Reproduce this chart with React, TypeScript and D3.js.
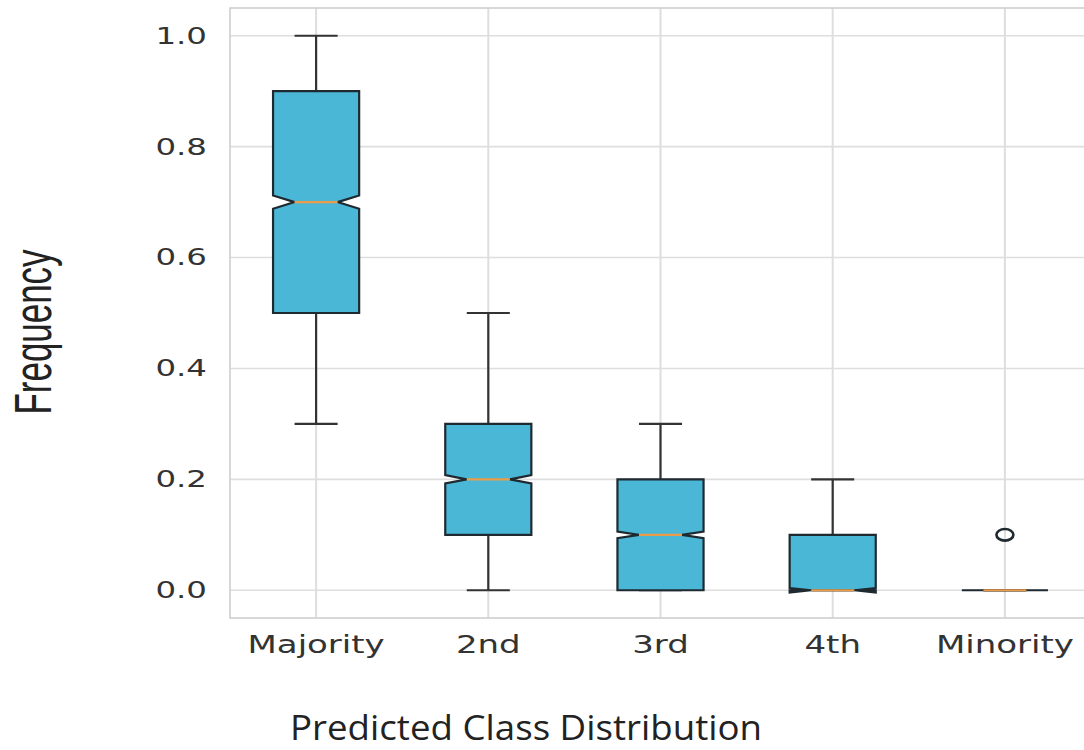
import React from "react";
import * as d3 from "d3";

const categories = ["Majority", "2nd", "3rd", "4th", "Minority"];
const whiskerLow = [0.3, 0.0, 0.0, 0.0, 0.0];
const q1 = [0.5, 0.1, 0.0, 0.0, 0.0];
const median = [0.7, 0.2, 0.1, 0.0, 0.0];
const q3 = [0.9, 0.3, 0.2, 0.1, 0.0];
const whiskerHigh = [1.0, 0.5, 0.3, 0.2, 0.0];
const notchHalf = [0.012, 0.0075, 0.006, 0.004, 0.0];
const outliers: number[][] = [[], [], [], [], [0.1]];
const yTicks = [0.0, 0.2, 0.4, 0.6, 0.8, 1.0];

const W = 1084;
const H = 750;
const plotLeft = 230;
const plotRight = 1091;
const plotTop = 8;
const plotBottom = 618;

const BOX_FILL = "#4ab7d7";
const EDGE = "#1e2a30";
const WHISK = "#333333";
const MED = "#eb9c48";
const GRID = "#dedede";
const FRAME = "#cfcfcf";

export default function App() {
  const x = d3.scaleLinear().domain([0.5, 5.5]).range([plotLeft, plotRight]);
  const y = d3.scaleLinear().domain([-0.05, 1.05]).range([plotBottom, plotTop]);
  const fmt = d3.format(".1f");
  const line = d3
    .line<[number, number]>()
    .x((d) => x(d[0]))
    .y((d) => y(d[1]));

  const boxHalf = 0.25;
  const waistHalf = 0.125;
  const capHalf = 0.125;

  return (
    <svg
      width={W}
      height={H}
      style={{ position: "absolute", left: 0, top: 0, background: "#fff" }}
    >
      <defs>
        <clipPath id="plotclip">
          <rect x={plotLeft} y={plotTop} width={plotRight - plotLeft} height={plotBottom - plotTop} />
        </clipPath>
      </defs>
      {/* grid */}
      <g>
        {yTicks.map((t) => (
          <line key={"gy" + t} x1={plotLeft} x2={plotRight} y1={y(t)} y2={y(t)} stroke={GRID} strokeWidth={1.6} />
        ))}
        {categories.map((c, i) => (
          <line key={"gx" + c} x1={x(i + 1)} x2={x(i + 1)} y1={plotTop} y2={plotBottom} stroke={GRID} strokeWidth={2} />
        ))}
      </g>
      {/* frame */}
      <rect
        x={plotLeft}
        y={plotTop}
        width={plotRight - plotLeft}
        height={plotBottom - plotTop}
        fill="none"
        stroke={FRAME}
        strokeWidth={1.6}
      />
      {/* boxes */}
      <g clipPath="url(#plotclip)">
        {categories.map((c, i) => {
          const p = i + 1;
          const l = p - boxHalf;
          const r = p + boxHalf;
          const nl = p - waistHalf;
          const nr = p + waistHalf;
          const nmin = median[i] - notchHalf[i];
          const nmax = median[i] + notchHalf[i];
          const pts: [number, number][] = [
            [l, q1[i]],
            [r, q1[i]],
            [r, nmin],
            [nr, median[i]],
            [r, nmax],
            [r, q3[i]],
            [l, q3[i]],
            [l, nmax],
            [nl, median[i]],
            [l, nmin],
            [l, q1[i]],
          ];
          return (
            <g key={c}>
              {/* whiskers */}
              <line x1={x(p)} x2={x(p)} y1={y(q3[i])} y2={y(whiskerHigh[i])} stroke={WHISK} strokeWidth={2.2} />
              <line x1={x(p)} x2={x(p)} y1={y(q1[i])} y2={y(whiskerLow[i])} stroke={WHISK} strokeWidth={2.2} />
              <line x1={x(p - capHalf)} x2={x(p + capHalf)} y1={y(whiskerHigh[i])} y2={y(whiskerHigh[i])} stroke={WHISK} strokeWidth={2.2} />
              <line x1={x(p - capHalf)} x2={x(p + capHalf)} y1={y(whiskerLow[i])} y2={y(whiskerLow[i])} stroke={WHISK} strokeWidth={2.2} />
              {/* box */}
              <path d={line(pts) + "Z"} fill={BOX_FILL} stroke={EDGE} strokeWidth={2.2} strokeLinejoin="miter" />
              {/* median */}
              <line x1={x(nl)} x2={x(nr)} y1={y(median[i])} y2={y(median[i])} stroke={MED} strokeWidth={2.2} />
              {/* outliers */}
              {outliers[i].map((o, k) => (
                <ellipse key={k} cx={x(p)} cy={y(o)} rx={8.5} ry={5.8} fill="none" stroke={EDGE} strokeWidth={2.6} />
              ))}
            </g>
          );
        })}
      </g>
      {/* y tick labels */}
      <g fontFamily="DejaVu Sans" fill="#333" fontSize={23.5}>
        {yTicks.map((t) => (
          <g key={"ty" + t} transform={`translate(207,${y(t)}) scale(1.38,1)`}>
            <text textAnchor="end" dominantBaseline="central">
              {fmt(t)}
            </text>
          </g>
        ))}
      </g>
      {/* x tick labels */}
      <g fontFamily="DejaVu Sans" fill="#333" fontSize={25}>
        {categories.map((c, i) => (
          <g key={"tx" + c} transform={`translate(${x(i + 1)},653) scale(1.36,1)`}>
            <text textAnchor="middle">{c}</text>
          </g>
        ))}
      </g>
      {/* axis titles */}
      <text
        x={526}
        y={740}
        textAnchor="middle"
        fontFamily="Open Sans"
        fontSize={35}
        fill="#222"
        textLength={472}
        lengthAdjust="spacingAndGlyphs"
      >
        Predicted Class Distribution
      </text>
      <g transform="translate(51,332) rotate(-90) scale(1,1.5)">
        <text
          x={0}
          y={0}
          textAnchor="middle"
          fontFamily="Liberation Sans"
          fontSize={35}
          fill="#222"
          textLength={165}
          lengthAdjust="spacingAndGlyphs"
        >
          Frequency
        </text>
      </g>
    </svg>
  );
}
